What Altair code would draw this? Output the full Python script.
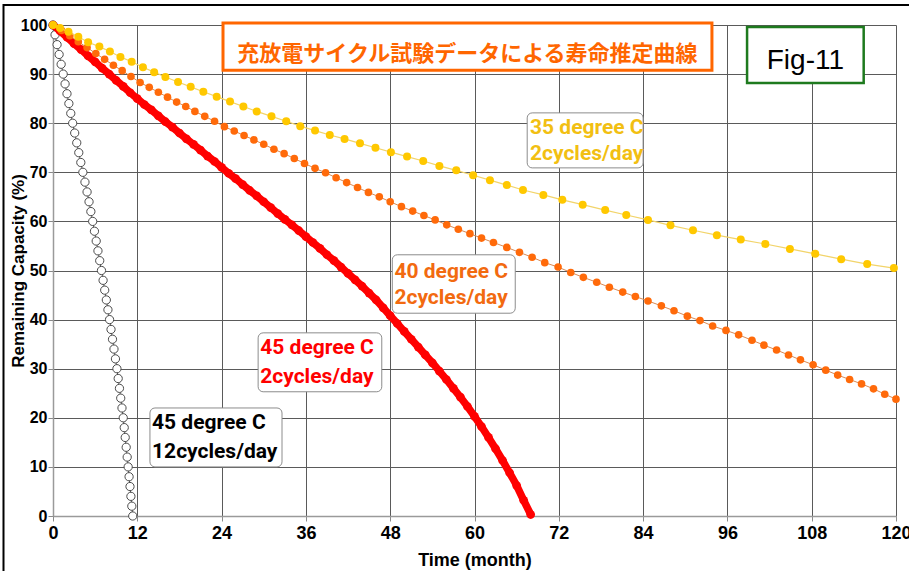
import altair as alt
import pandas as pd

# ---- 35 degree C, 2 cycles/day (month, remaining capacity %) ----
c35_month = [0, 1.0, 2.2, 3.6, 5.0, 6.6, 8.1, 9.6, 11.2, 12.8, 14.4, 16.0, 17.8, 19.6, 21.4,
             23.3, 25.2, 27.1, 29.0, 31.1, 33.2, 35.2, 37.3, 39.4, 41.5, 43.7, 45.9, 48.1,
             50.4, 52.7, 55.0, 57.4, 59.8, 62.2, 64.6, 66.9, 69.8, 72.5, 75.4, 78.6, 81.6,
             84.7, 87.9, 91.1, 94.5, 97.9, 101.4, 104.9, 108.5, 112.2, 115.9, 119.7]
c35_cap = [100, 99.4, 98.6, 97.6, 96.5, 95.6, 94.6, 93.5, 92.5, 91.4, 90.4, 89.4, 88.4, 87.4,
           86.4, 85.4, 84.4, 83.4, 82.4, 81.4, 80.4, 79.4, 78.5, 77.6, 76.8, 75.9, 75.0, 74.1,
           73.2, 72.3, 71.3, 70.4, 69.4, 68.4, 67.4, 66.4, 65.4, 64.4, 63.4, 62.3, 61.3,
           60.3, 59.2, 58.2, 57.2, 56.3, 55.4, 54.4, 53.4, 52.3, 51.3, 50.5]

# ---- 40 degree C, 2 cycles/day ----
c40_month = [0, 1.2, 2.4, 3.6, 4.85, 6.1, 7.35, 8.6, 9.85, 11.1, 12.4, 13.7, 15.0, 16.3, 17.6,
             18.9, 20.2, 21.6, 23.0, 24.4, 25.8, 27.2, 28.6, 30.0, 31.45, 32.9, 34.35, 35.8,
             37.3, 38.8, 40.3, 41.8, 43.35, 44.9, 46.45, 48.0, 49.6, 51.2, 52.8, 54.4, 56.05,
             57.7, 59.35, 61.0, 62.7, 64.6, 66.4, 68.2, 70.0, 71.9, 73.7, 75.5, 77.4, 79.2,
             81.1, 82.9, 84.7, 86.6, 88.4, 90.3, 92.1, 93.9, 95.8, 97.6, 99.5, 101.2, 103.0,
             104.7, 106.4, 108.2, 110.0, 111.7, 113.4, 115.1, 116.8, 118.4, 120.0]
c40_cap = [100, 98.9, 97.8, 96.6, 95.4, 94.2, 93.0, 91.8, 90.7, 89.5, 88.3, 87.3, 86.3, 85.3,
           84.3, 83.4, 82.4, 81.4, 80.4, 79.3, 78.4, 77.5, 76.6, 75.7, 74.7, 73.8, 72.8, 71.8,
           70.8, 69.9, 68.9, 67.9, 66.9, 65.9, 65.0, 64.0, 63.0, 62.1, 61.2, 60.3, 59.3,
           58.4, 57.5, 56.6, 55.7, 54.7, 53.7, 52.7, 51.6, 50.7, 49.6, 48.6, 47.6, 46.6,
           45.6, 44.7, 43.8, 42.8, 41.8, 40.7, 39.8, 38.7, 37.8, 36.9, 35.8, 34.8, 33.8,
           32.8, 31.8, 30.8, 29.7, 28.7, 27.8, 26.9, 25.9, 24.8, 23.8]

# ---- 45 degree C, 2 cycles/day ----
c45_month = list(range(0, 68)) + [68]
c45_cap = [100, 98.8, 97.5, 96.2, 95.0, 93.7, 92.5, 91.2, 90.0, 88.7, 87.5, 86.2, 85.0, 83.8,
           82.7, 81.5, 80.3, 79.2, 78.0, 76.8, 75.7, 74.5, 73.3, 72.2, 71.0, 69.8, 68.7, 67.5,
           66.3, 65.2, 64.0, 62.8, 61.6, 60.4, 59.3, 58.1, 56.9, 55.7, 54.5, 53.2, 52.0, 50.7,
           49.4, 48.1, 46.8, 45.4, 44.0, 42.4, 40.8, 39.2, 37.6, 36.0, 34.4, 32.8, 31.2, 29.5,
           27.8, 26.0, 24.2, 22.3, 20.3, 18.2, 16.0, 13.7, 11.3, 8.8, 6.2, 3.2, 0.3]

# ---- 45 degree C, 12 cycles/day ----
c45h_month = [0, 0.29, 0.58, 0.87, 1.16, 1.45, 1.72, 1.99, 2.26, 2.53, 2.80, 3.09, 3.38, 3.67,
              3.96, 4.25, 4.55, 4.85, 5.13, 5.39, 5.65, 5.90, 6.15, 6.40, 6.65, 6.90, 7.13,
              7.36, 7.59, 7.82, 8.05, 8.26, 8.47, 8.68, 8.89, 9.10, 9.28, 9.46, 9.64, 9.82,
              10.0, 10.14, 10.28, 10.42, 10.56, 10.70, 10.83, 10.96, 11.09, 11.22, 11.35]
c45h_cap = [100, 98, 96, 94, 92, 90, 88, 86, 84, 82, 80, 78, 76, 74, 72, 70, 68, 66, 64, 62,
            60, 58, 56, 54, 52, 50, 48, 46, 44, 42, 40, 38, 36, 34, 32, 30, 28, 26, 24, 22,
            20, 18, 16, 14, 12, 10, 8, 6, 4, 2, 0]

X_TICKS = list(range(0, 121, 12))
Y_TICKS = list(range(0, 101, 10))

TITLE_TEXT = "充放電サイクル試験データによる寿命推定曲線"
FIG_TEXT = "Fig-11"
series_labels = [
    ("35 degree C", "2cycles/day", "#F2BF12"),
    ("40 degree C", "2cycles/day", "#F26A10"),
    ("45 degree C", "2cycles/day", "#FF0000"),
    ("45 degree C", "12cycles/day", "#000000"),
]
# label box placement in data units: (left, right, top, bottom, text_x, line1_y, line2_y)
label_boxes = [
    (67.5, 84.0, 82.1, 70.9, 67.9, 79.0, 73.8),
    (48.3, 65.8, 53.2, 41.3, 48.6, 49.7, 44.4),
    (29.2, 46.8, 37.3, 25.3, 29.5, 34.2, 28.3),
    (13.8, 32.6, 22.0, 10.0, 14.1, 18.9, 13.0),
]

W, H = 843, 491
sx = alt.Scale(domain=[0, 120], nice=False, zero=False)
sy = alt.Scale(domain=[0, 100], nice=False, zero=False)
ax_x = alt.Axis(values=X_TICKS, grid=True, gridColor="#5a5a5a", gridWidth=1, gridOpacity=1,
                domainColor="#9a9a9a", domainWidth=1.5, tickColor="#8a8a8a", tickSize=5,
                labelFont="Liberation Sans", labelFontWeight="bold", labelFontSize=18,
                labelColor="#000000", labelPadding=3, labelFlush=False, labelOverlap=False,
                titleFont="Liberation Sans", titleFontWeight="bold", titleFontSize=18,
                titleColor="#000000", titleBaseline="alphabetic", titleY=49)
ax_y = alt.Axis(values=Y_TICKS, grid=True, gridColor="#5a5a5a", gridWidth=1, gridOpacity=1,
                domainColor="#9a9a9a", domainWidth=1.5, tickColor="#8a8a8a", tickSize=5,
                labelFont="Liberation Sans", labelFontWeight="bold", labelFontSize=16,
                labelColor="#000000", labelPadding=1, labelFlush=False, labelOverlap=False,
                titleFont="Liberation Sans", titleFontWeight="bold", titleFontSize=17,
                titleColor="#000000", titleAngle=270, titleBaseline="alphabetic",
                titleX=-30, titleY=H / 2)


def X(field="month"):
    return alt.X(f"{field}:Q", scale=sx, axis=ax_x, title="Time (month)")


def Y(field="cap"):
    return alt.Y(f"{field}:Q", scale=sy, axis=ax_y, title="Remaining Capacity (%)")


def series(months, caps):
    return pd.DataFrame({"month": months, "cap": caps})


d35 = series(c35_month, c35_cap)
d40 = series(c40_month, c40_cap)
d45 = series(c45_month, c45_cap)
d45h = series(c45h_month, c45h_cap)

# outer frame of the figure
frame = alt.Chart(pd.DataFrame({"k": [0]})).mark_rect(
    filled=False, stroke="#000000", strokeWidth=2
).encode(x=alt.value(-49.5), x2=alt.value(W + 60), y=alt.value(-20), y2=alt.value(H + 80))

# curves
line45h = alt.Chart(d45h).mark_line(color="#555555", strokeWidth=1).encode(x=X(), y=Y())
pts45h = alt.Chart(d45h).mark_point(shape="circle", size=68, filled=True, fill="#ffffff",
                                    stroke="#4a4a4a", strokeWidth=1, opacity=1).encode(x=X(), y=Y())
line45 = alt.Chart(d45).mark_line(color="#FF0000", strokeWidth=7.5).encode(x=X(), y=Y())
pts45 = alt.Chart(d45).mark_circle(color="#FF0000", size=76, opacity=1).encode(x=X(), y=Y())
line40 = alt.Chart(d40).mark_line(color="#D98A55", strokeWidth=1).encode(x=X(), y=Y())
pts40 = alt.Chart(d40).mark_circle(color="#FF6A0A", size=58, opacity=1).encode(x=X(), y=Y())
line35 = alt.Chart(d35).mark_line(color="#F2D46A", strokeWidth=1.2).encode(x=X(), y=Y())
pts35 = alt.Chart(d35).mark_circle(color="#FFC800", size=64, opacity=1).encode(x=X(), y=Y())

# series label boxes and texts
box_rows, text_rows = [], []
for (l1, l2, col), (x0, x1, y0, y1, tx, ty1, ty2) in zip(series_labels, label_boxes):
    box_rows.append({"month": x0, "month2": x1, "cap": y0, "cap2": y1})
    text_rows.append({"month": tx, "cap": ty1, "text": l1, "color": col})
    text_rows.append({"month": tx, "cap": ty2, "text": l2, "color": col})
boxes = alt.Chart(pd.DataFrame(box_rows)).mark_rect(
    cornerRadius=5, fill="#ffffff", stroke="#8c8c8c", strokeWidth=1
).encode(x=X(), x2="month2:Q", y=Y(), y2="cap2:Q")
texts = alt.Chart(pd.DataFrame(text_rows)).mark_text(
    align="left", baseline="middle", font="Roboto", fontWeight="bold", fontSize=21
).encode(x=X(), y=Y(), text="text:N", color=alt.Color("color:N", scale=None))

# heading box
head_box = alt.Chart(pd.DataFrame([{"month": 24.2, "month2": 93.8, "cap": 100.4, "cap2": 90.8}])).mark_rect(
    fill="#ffffff", stroke="#FF6600", strokeWidth=3
).encode(x=X(), x2="month2:Q", y=Y(), y2="cap2:Q")
head_text = alt.Chart(pd.DataFrame([{"month": 59.0, "cap": 94.1, "text": TITLE_TEXT}])).mark_text(
    align="center", baseline="middle", font="Noto Sans CJK JP", fontWeight="bold", fontSize=22,
    color="#FF6600"
).encode(x=X(), y=Y(), text="text:N")

fig_box = alt.Chart(pd.DataFrame([{"month": 98.8, "month2": 115.4, "cap": 99.6, "cap2": 88.2}])).mark_rect(
    fill="#ffffff", stroke="#1E7A1E", strokeWidth=2.5
).encode(x=X(), x2="month2:Q", y=Y(), y2="cap2:Q")
fig_text = alt.Chart(pd.DataFrame([{"month": 107.1, "cap": 92.6, "text": FIG_TEXT}])).mark_text(
    align="center", baseline="middle", font="Liberation Sans", fontSize=28, color="#000000"
).encode(x=X(), y=Y(), text="text:N")

chart = alt.layer(
    line45h, pts45h, line45, pts45, line40, pts40, line35, pts35,
    boxes, texts, head_box, head_text, fig_box, fig_text, frame
).properties(
    width=W, height=H,
    autosize=alt.AutoSizeParams(type="none"),
    padding={"left": 53, "top": 25, "right": 13, "bottom": 55},
    background="#ffffff",
).configure_view(strokeWidth=0)

chart.save("out.html", embed_options={"renderer": "svg", "actions": False})
